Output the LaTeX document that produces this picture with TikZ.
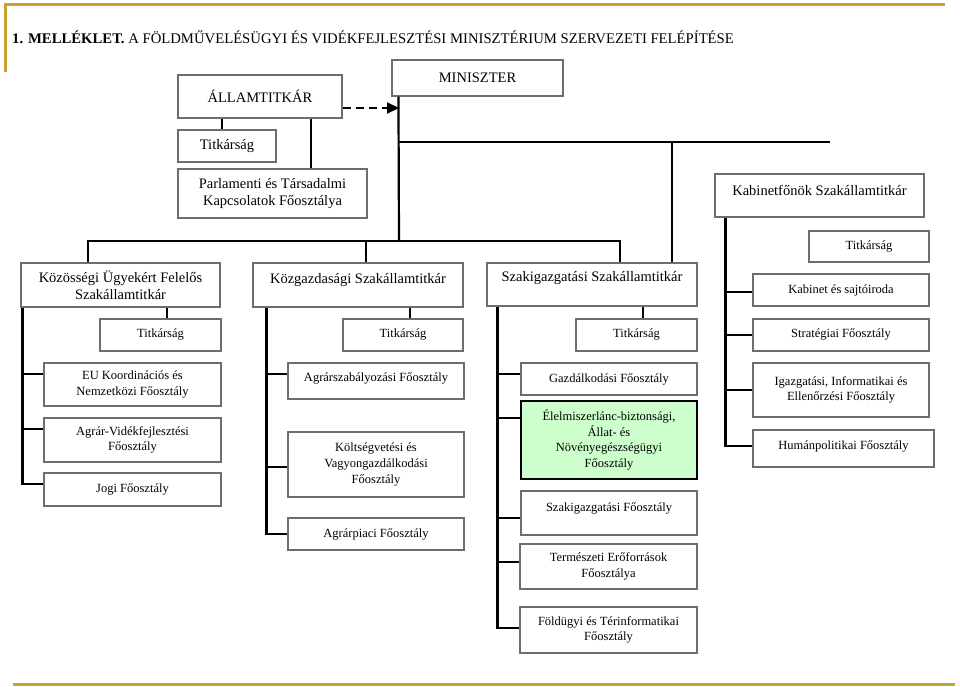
\documentclass[tikz,border=0pt]{standalone}
\usepackage{fontspec}
\setmainfont{Liberation Serif}
\usetikzlibrary{arrows.meta,calc}
\definecolor{gold}{RGB}{201,160,50}
\definecolor{boxgray}{RGB}{110,110,110}
\definecolor{palegreen}{RGB}{204,255,204}
\newcommand{\lift}[2]{\raisebox{#1}[\height][\depth]{#2}}

\begin{document}
\begin{tikzpicture}[x=1pt,y=1pt,
    box/.style={draw=boxgray, line width=1.1pt, align=center, inner sep=1pt,
      font=\fontsize{12.5}{15.7}\selectfont},
    bigbox/.style={box, font=\fontsize{14.5}{17}\selectfont},
    link/.style={line width=2.2pt},
    frame/.style={gold, line width=3pt}]
  \useasboundingbox (0,0) rectangle (960,-687);
  % frame and title
  \draw[frame] (5,-72) -- (5,-5) -- (945,-5);
  \draw[frame] (13,-684) -- (955,-684);
  \node[anchor=base west, inner sep=0, font=\fontsize{14.7}{17}\selectfont] (title) at (12,-44)
    {\textbf{1. MELLÉKLET.} A FÖLDMŰVELÉSÜGYI ÉS VIDÉKFEJLESZTÉSI MINISZTÉRIUM SZERVEZETI FELÉPÍTÉSE};

  % top level
  \node[bigbox, minimum width=171, minimum height=36] (miniszter) at (477.5,-78) {MINISZTER};
  \node[bigbox, minimum width=164, minimum height=43] (allamt) at (260,-96.5) {ÁLLAMTITKÁR};
  \node[bigbox, minimum width=98, minimum height=32] (titk0) at (227,-146) {Titkárság};
  \node[bigbox, minimum width=189, minimum height=49] (parl) at (272.5,-193.5) {Parlamenti és Társadalmi\\Kapcsolatok Főosztálya};
  \node[bigbox, minimum width=209, minimum height=43] (kabf) at (819.5,-195.5) {\lift{5.5pt}{Kabinetfőnök Szakállamtitkár}};
  \node[box, minimum width=120, minimum height=31] (titk4) at (869,-246.5) {Titkárság};

  % szakallamtitkarok
  \node[bigbox, minimum width=199, minimum height=44] (kozos) at (120.5,-285) {Közösségi Ügyekért Felelős\\Szakállamtitkár};
  \node[bigbox, minimum width=210, minimum height=44] (kozg) at (358,-285) {\lift{5pt}{Közgazdasági Szakállamtitkár}};
  \node[bigbox, minimum width=210, minimum height=43] (szakig) at (592,-284.5) {\lift{6.5pt}{Szakigazgatási Szakállamtitkár}};
  \node[box, minimum width=176, minimum height=32] (kabin) at (841,-290) {Kabinet és sajtóiroda};
  \node[box, minimum width=121, minimum height=32] (titk1) at (160.5,-335) {Titkárság};
  \node[box, minimum width=120, minimum height=32] (titk2) at (403,-335) {Titkárság};
  \node[box, minimum width=121, minimum height=32] (titk3) at (636.5,-335) {Titkárság};
  \node[box, minimum width=176, minimum height=32] (strat) at (841,-335) {Stratégiai Főosztály};

  % foosztalyok
  \node[box, minimum width=177, minimum height=43] (eu) at (132.5,-384.5) {EU Koordinációs és\\Nemzetközi Főosztály};
  \node[box, minimum width=177, minimum height=44] (agrvid) at (132.5,-440) {Agrár-Vidékfejlesztési\\Főosztály};
  \node[box, minimum width=177, minimum height=33] (jogi) at (132.5,-489.5) {Jogi Főosztály};
  \node[box, minimum width=176, minimum height=36] (agrsz) at (376,-381) {\lift{2pt}{Agrárszabályozási Főosztály}};
  \node[box, minimum width=176, minimum height=65] (koltseg) at (376,-464.5) {Költségvetési és\\Vagyongazdálkodási\\Főosztály};
  \node[box, minimum width=176, minimum height=32] (agrpiac) at (376,-534) {Agrárpiaci Főosztály};
  \node[box, minimum width=176, minimum height=32] (gazd) at (609,-379) {Gazdálkodási Főosztály};
  \node[box, draw=black, line width=1.6pt, fill=palegreen, minimum width=176, minimum height=78] (elelm) at (609,-440)
    {Élelmiszerlánc-biztonsági,\\Állat- és\\Növényegészségügyi\\Főosztály};
  \node[box, minimum width=176, minimum height=44] (szakfo) at (609,-513) {\lift{5pt}{Szakigazgatási Főosztály}};
  \node[box, minimum width=177, minimum height=45] (termesz) at (608.5,-566.5) {Természeti Erőforrások\\Főosztálya};
  \node[box, minimum width=177, minimum height=46] (foldugy) at (608.5,-630) {Földügyi és Térinformatikai\\Főosztály};
  \node[box, minimum width=176, minimum height=54] (igazg) at (841,-390) {Igazgatási, Informatikai és\\Ellenőrzési Főosztály};
  \node[box, minimum width=181, minimum height=37] (human) at (843.5,-448.5) {\lift{2.5pt}{Humánpolitikai Főosztály}};

  % connectors
  \coordinate (mleft) at ([xshift=7]miniszter.south west);
  \coordinate (hub) at (399,-241);
  \coordinate (hub2) at (399,-142);
  \coordinate (arr) at (399,-108);
  \coordinate (stub) at (830,-142);
  \draw[link] (mleft) -- (hub);
  \draw[link, dash pattern=on 8pt off 5pt, -{Triangle[length=12pt,width=11pt]}] (allamt.east |- arr) -- (arr);
  \coordinate (tk0) at ([xshift=-5]titk0.north);
  \draw[link] (allamt.south -| tk0) -- (tk0);
  \coordinate (pk) at ([xshift=38.5]parl.north);
  \draw[link] (allamt.south -| pk) -- (pk);

  \draw[link] ([xshift=-32.5]kozos.north) |- (hub);
  \draw[link] ([xshift=8]kozg.north) |- (hub);
  \draw[link] ([xshift=28]szakig.north) |- (hub);
  \draw[link] ([xshift=80]szakig.north) |- (hub2);
  \draw[link] (hub2) -- (stub);

  \coordinate (tk1) at ([xshift=6.5]titk1.north);
  \draw[link] (kozos.south -| tk1) -- (tk1);
  \coordinate (tk2) at ([xshift=7]titk2.north);
  \draw[link] (kozg.south -| tk2) -- (tk2);
  \coordinate (tk3) at ([xshift=6.5]titk3.north);
  \draw[link] (szakig.south -| tk3) -- (tk3);

  \coordinate (spL) at ([xshift=2]kozos.south west);
  \foreach \n/\d in {eu/10.5, agrvid/11, jogi/5.5}
    \draw[link] ([yshift=\d]\n.west) -| (spL);
  \coordinate (spM) at ([xshift=14]kozg.south west);
  \foreach \n/\d in {agrsz/7, koltseg/-2.5, agrpiac/0}
    \draw[link] ([yshift=\d]\n.west) -| (spM);
  \coordinate (spR) at ([xshift=11]szakig.south west);
  \foreach \n/\d in {gazd/5, elelm/22, szakfo/-5, termesz/4.5, foldugy/2}
    \draw[link] ([yshift=\d]\n.west) -| (spR);
  \coordinate (spK) at ([xshift=11]kabf.south west);
  \foreach \n/\d in {kabin/-2, strat/0, igazg/0, human/2.5}
    \draw[link] ([yshift=\d]\n.west) -| (spK);
\end{tikzpicture}
\end{document}
